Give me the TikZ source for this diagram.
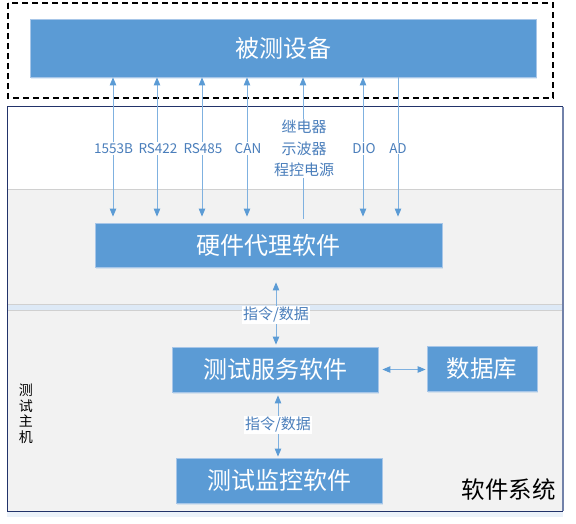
\documentclass[tikz,border=0pt]{standalone}
\usepackage{fontspec}
\setmainfont{Noto Sans CJK SC}
\usetikzlibrary{arrows.meta,shadows}
\definecolor{boxblue}{HTML}{5B9BD5}
\definecolor{boxedge}{HTML}{A7C6E8}
\definecolor{linkblue}{HTML}{7FB1E0}
\definecolor{headblue}{HTML}{5B9BD5}
\definecolor{lblblue}{HTML}{4A7EBB}
\definecolor{bandgray}{HTML}{F2F2F2}
\definecolor{bandline}{HTML}{D0D0D0}
\definecolor{framenavy}{HTML}{22336A}
\definecolor{frameright}{HTML}{7282AA}
\definecolor{stripblue}{HTML}{DDE9F6}
\begin{document}
\begin{tikzpicture}[x=1pt,y=-1pt,
  box/.style={draw=boxedge, line width=0.8pt, fill=boxblue, text=white, inner sep=0pt,
    font=\fontsize{24}{24}\selectfont,
    drop shadow={shadow xshift=0.5pt, shadow yshift=-2pt, opacity=0.18, fill=boxblue}},
  link/.style={draw=linkblue, line width=0.9pt},
  tipb/.tip={Triangle[length=8pt,width=6.5pt,color=headblue]},
  lbl/.style={fill=white, text=lblblue, inner sep=1pt, font=\fontsize{15}{15}\selectfont},
  lbll/.style={lbl, font=\fontsize{13.5}{13.5}\selectfont},
]
\useasboundingbox (0,0) rectangle (576,524);
% host frame and bands
\fill[white] (7,107) rectangle (563,511);
\fill[bandgray] (8,189) rectangle (562,304);
\draw[bandline, line width=0.8pt] (8,189) -- (562,189);
\fill[stripblue] (8,304) rectangle (562,310);
\draw[bandline, line width=0.8pt] (8,304) -- (562,304);
\fill[bandgray] (8,310) rectangle (562,511);
\draw[bandline, line width=0.8pt] (8,310) -- (562,310);
\fill[stripblue!60] (7,512) rectangle (563,517);
\draw[framenavy, line width=1pt] (563,107) -- (7,107) -- (7,511) -- (563,511);
\draw[frameright, line width=1.2pt] (563,107) -- (563,511);
% dashed DUT frame
\draw[black, line width=2.4pt, dash pattern=on 6pt off 4pt] (8,3) rectangle (553,98);
% boxes
\node[box, minimum width=506pt, minimum height=58pt] (dev) at (283,48) {被测设备};
\node[box, minimum width=347pt, minimum height=44pt] (hw) at (268.5,245) {硬件代理软件};
\node[box, minimum width=206pt, minimum height=45pt] (svc) at (275,369.5) {测试服务软件};
\node[box, minimum width=110pt, minimum height=45pt, font=\fontsize{23.5}{23.5}\selectfont] (db) at (482,368.5) {数据库};
\node[box, minimum width=206pt, minimum height=45pt] (mon) at (279,480.5) {测试监控软件};
% bus coordinates
\coordinate (x1) at (113,0);
\coordinate (x2) at (157,0);
\coordinate (x3) at (202,0);
\coordinate (x4) at (247,0);
\coordinate (x5) at (303,0);
\coordinate (x6) at (363,0);
\coordinate (x7) at (398,0);
\coordinate (xa) at (276,0);
\coordinate (xb) at (278,0);
% bus links
\foreach \c in {x1,x2,x3,x4,x6}
  \draw[link, tipb-tipb, shorten >=6pt] (dev.south -| \c) -- (hw.north -| \c);
\draw[link, tipb-, shorten >=4pt] (dev.south -| x5) -- (hw.north -| x5);
\draw[link, -tipb, shorten >=6pt] (dev.south -| x7) -- (hw.north -| x7);
% labels
\node[lbll] (l1) at (113.5,148.5) {1553B};
\node[lbll] (l2) at (158,148.5) {RS422};
\node[lbll] (l3) at (203,148.5) {RS485};
\node[lbll] (l4) at (248,148.5) {CAN};
\node[lbl, align=center, font=\fontsize{15}{21.5}\selectfont] (l5) at (304,148.5) {继电器\\示波器\\程控电源};
\node[lbll] (l6) at (364,148.5) {DIO};
\node[lbll] (l7) at (398,148.5) {AD};
% software links
\draw[link, tipb-tipb, shorten <=15pt, shorten >=2pt] (hw.south -| xa) -- (svc.north -| xa);
\node[lbl] (c1) at (276,315) {指令/数据};
\draw[link, tipb-tipb, shorten <=3pt, shorten >=1pt] (svc.south -| xb) -- (mon.north -| xb);
\node[lbl] (c2) at (278,425) {指令/数据};
\draw[link, tipb-tipb, shorten <=4pt, shorten >=1pt] (svc.east) -- (db.west |- svc.east);
% titles
\node[align=center, inner sep=0pt, font=\fontsize{14}{15.5}\selectfont] (host) at (26,414) {测\\试\\主\\机};
\node[inner sep=0pt, font=\fontsize{23.5}{23.5}\selectfont] (sys) at (508.5,490) {软件系统};
\end{tikzpicture}
\end{document}
